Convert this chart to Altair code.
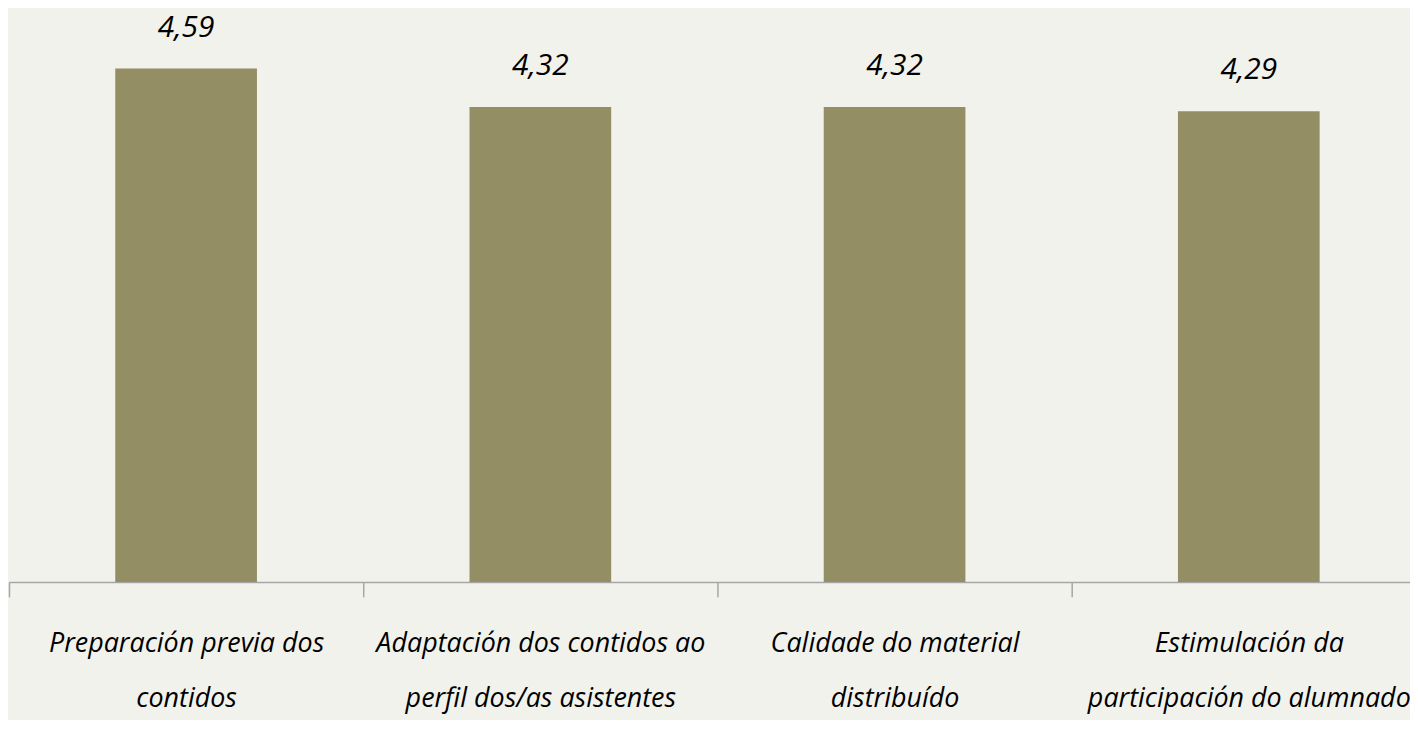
import altair as alt
import pandas as pd

categories = [
    "Preparación previa dos\ncontidos",
    "Adaptación dos contidos ao\nperfil dos/as asistentes",
    "Calidade do material\ndistribuído",
    "Estimulación da\nparticipación do alumnado",
]
values = [4.59, 4.32, 4.32, 4.29]

df = pd.DataFrame({"cat": categories, "val": values})

FONT = "Open Sans"
BAR = "#938E64"
BG = "#F2F2ED"

x = alt.X(
    "cat:N",
    sort=categories,
    scale=alt.Scale(range=[0, 1424], paddingInner=0, paddingOuter=0),
    axis=alt.Axis(
        title=None,
        labelAngle=0,
        tickBand="extent",
        tickSize=15,
        tickWidth=1.5,
        tickColor="#a6a6a6",
        domainColor="#a6a6a6",
        domainWidth=1.5,
        labelFont=FONT,
        labelFontStyle="italic",
        labelFontSize=27,
        labelColor="#000000",
        labelLineHeight=55,
        labelPadding=34,
        labelLimit=0,
        labelExpr="split(datum.label, '\\n')",
        grid=False,
    ),
)
y = alt.Y("val:Q", scale=alt.Scale(domain=[1, 5], zero=False, nice=False), axis=None)

base = alt.Chart(df).encode(x=x, y=y)

bars = base.mark_bar(color=BAR, width=alt.RelativeBandSize(0.4)).encode(y2=alt.datum(1))
texts = base.transform_calculate(
    lbl="replace(format(datum.val, '.2f'), '.', ',')"
).mark_text(
    font=FONT, fontStyle="italic", fontSize=30, color="#000000",
    baseline="alphabetic", dy=-32
).encode(text="lbl:N")

chart = (
    alt.layer(bars, texts)
    .properties(
        width=1408,
        height=575,
        background=BG,
        autosize=alt.AutoSizeParams(type="none"),
        padding={"left": 1, "top": 0, "right": 0, "bottom": 137},
    )
    .configure_view(stroke=None)
)

chart.save("out.html", embed_options={"renderer": "svg", "actions": False})
